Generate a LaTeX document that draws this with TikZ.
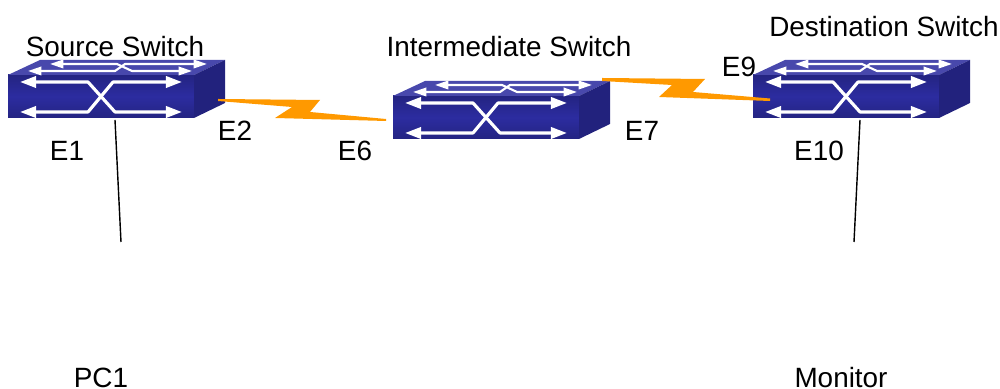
\documentclass[tikz,border=0pt]{standalone}
\usepackage{fontspec}
\setmainfont{Liberation Sans}
\usetikzlibrary{arrows.meta}
\definecolor{swfront}{RGB}{44,44,160}
\definecolor{swfrontdark}{RGB}{36,36,130}
\definecolor{swtop}{RGB}{72,72,172}
\definecolor{swside}{RGB}{34,34,125}
\definecolor{boltorange}{RGB}{255,153,0}
\tikzset{
	lbl/.style={font=\fontsize{7.93pt}{9pt}\selectfont, text=black, inner sep=0pt},
	lane/.style={draw=white, line width=0.9pt, line join=round, {Triangle[length=4.6pt,width=3.2pt]}-{Triangle[length=4.6pt,width=3.2pt]}},
	toplane/.style={draw=white, line width=0.6pt, line join=round, {Triangle[length=3.8pt,width=2.4pt]}-{Triangle[length=3.8pt,width=2.4pt]}},
	bolt/.style={fill=boltorange, draw=none},
	wire/.style={draw=black, line width=0.4pt},
	switchicon/.pic={
		%faces
		\shade[top color=swfrontdark, bottom color=swfrontdark, middle color=swfront] (8,75)--(194,75)--(194,118)--(8,118)--cycle;
		\fill[swtop] (8,75)--(40,60)--(225,60)--(194,75)--cycle;
		\fill[swside] (194,75)--(225,60)--(225,103)--(194,118)--cycle;
		%top lanes
		\draw[toplane] (50,64)--(117,64)--(132,71)--(192,71);
		\draw[toplane] (28,71)--(115,71)--(125,64)--(207,64);
		%front lanes
		\draw[lane] (20,82)--(88,82)--(115,112)--(182,112);
		\draw[lane] (20,112)--(88,112)--(113,82)--(182,82);
		\coordinate (-port) at (115,120);
	}
}

\begin{document}
\begin{tikzpicture}[x=0.01cm, y=-0.01cm]
	\useasboundingbox (0,0) rectangle (1000,389);
	
	%switches
	\pic (srcsw) at (0,0) {switchicon};
	\pic (midsw) at (385,21) {switchicon};
	\pic (dstsw) at (745,0) {switchicon};
	
	%links
	\fill[bolt] (218,99)--(320,100)--(310,112)--(386,119)--(386,121)--(275,118)--(292,107)--(218,101)--cycle;
	\fill[bolt] (602,78)--(705,79)--(693,92)--(770,98.5)--(770,101)--(659,97)--(672,85)--(602,81)--cycle;
	
	%wires
	\coordinate (pc1end) at (121,242);
	\coordinate (monend) at (854,242);
	\draw[wire] (srcsw-port)--(pc1end);
	\draw[wire] (dstsw-port)--(monend);
	
	%labels
	\node[lbl] (srclbl) at (115,47) {Source Switch};
	\node[lbl] (midlbl) at (509,47) {Intermediate Switch};
	\node[lbl] (dstlbl) at (884,27) {Destination Switch};
	\node[lbl] (e1) at (67,151) {E1};
	\node[lbl] (e2) at (235,131) {E2};
	\node[lbl] (e6) at (355,151) {E6};
	\node[lbl] (e7) at (642,131) {E7};
	\node[lbl] (e9) at (739,67) {E9};
	\node[lbl] (e10) at (819,151) {E10};
	\node[lbl] (pc1) at (101,378) {PC1};
	\node[lbl] (mon) at (841,378) {Monitor};
\end{tikzpicture}
\end{document}
